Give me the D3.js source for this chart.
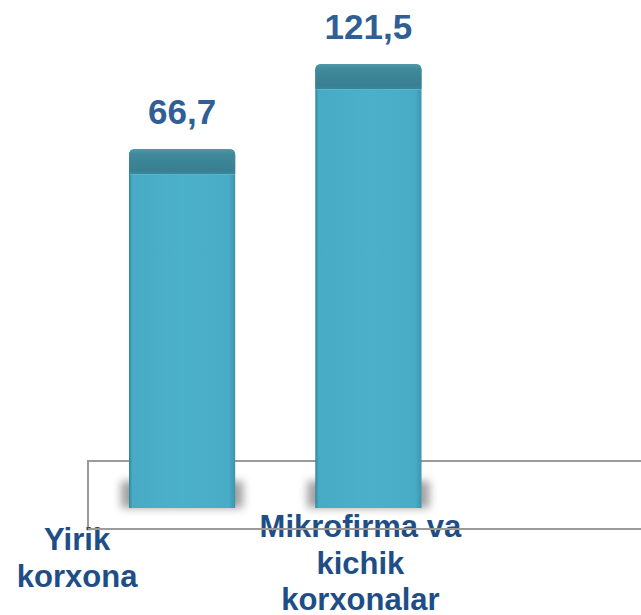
<!DOCTYPE html>
<html>
<head>
<meta charset="utf-8">
<script src="https://cdn.jsdelivr.net/npm/d3@7"></script>
<style>
  html, body { margin: 0; padding: 0; background: #fff; }
  svg { display: block; }
</style>
</head>
<body>
<div id="chart"></div>
<script>
// data
const categories = ["Yirik korxona", "Mikrofirma va kichik korxonalar"];
const values = [66.7, 121.5];
const categoryLines = [["Yirik", "korxona"], ["Mikrofirma va", "kichik", "korxonalar"]];

const width = 641;
const height = 615;
const floorY = 508; // base of bars
const capH = 25; // darker top block of each bar
const labelShift = [-105, -8]; // category labels sit left of the bars (3D layout)

const svg = d3.select("#chart")
  .append("svg")
  .attr("width", width)
  .attr("height", height)
  .attr("viewBox", `0 0 ${width} ${height}`);

const defs = svg.append("defs");

const bodyGrad = defs.append("linearGradient").attr("id", "bodyGrad")
  .attr("x1", 0).attr("x2", 1).attr("y1", 0).attr("y2", 0);
[[0, "#2f8399"], [0.03, "#47abc5"], [0.5, "#4bb0ca"], [0.94, "#48acc6"], [1, "#3c95ac"]]
  .forEach(([o, c]) => bodyGrad.append("stop").attr("offset", o).attr("stop-color", c));

const capGrad = defs.append("linearGradient").attr("id", "capGrad")
  .attr("x1", 0).attr("x2", 0).attr("y1", 0).attr("y2", 1);
[[0, "#5199a9"], [0.2, "#3f8a9b"], [0.85, "#387f91"], [1, "#3a8799"]]
  .forEach(([o, c]) => capGrad.append("stop").attr("offset", o).attr("stop-color", c));

defs.append("filter").attr("id", "blur")
  .attr("x", "-30%").attr("y", "-50%").attr("width", "160%").attr("height", "200%")
  .append("feGaussianBlur").attr("stdDeviation", 4);

// scales
const x = d3.scaleBand()
  .domain(categories)
  .range([129, 421.5])
  .paddingInner(0.43)
  .paddingOuter(0);

const y = d3.scaleLinear()
  .domain([-165, 121.5])
  .range([floorY, 64]);

// floor plane (top edge sits behind the bars)
svg.append("line")
  .attr("x1", 88).attr("x2", width + 10)
  .attr("y1", 461).attr("y2", 461)
  .attr("stroke", "#9a9a9a").attr("stroke-width", 2);
svg.append("line")
  .attr("x1", 88).attr("x2", 88)
  .attr("y1", 460).attr("y2", 530)
  .attr("stroke", "#9a9a9a").attr("stroke-width", 2);

const bars = svg.append("g")
  .selectAll("g")
  .data(categories)
  .enter()
  .append("g");

// shadows at the foot of the bars
bars.append("rect")
  .attr("x", (d) => x(d) - 8)
  .attr("y", floorY - 27)
  .attr("width", x.bandwidth() + 16)
  .attr("height", 27)
  .attr("fill", "#7a7a7a")
  .attr("opacity", 0.7)
  .attr("filter", "url(#blur)");

// bar body
bars.append("path")
  .attr("d", (d, i) => {
    const x0 = x(d), x1 = x(d) + x.bandwidth(), t = y(values[i]), r = 6;
    return `M${x0},${floorY} L${x0},${t + r} Q${x0},${t} ${x0 + r},${t} L${x1 - r},${t} Q${x1},${t} ${x1},${t + r} L${x1},${floorY} Z`;
  })
  .attr("fill", "url(#bodyGrad)");

// darker cap on top
bars.append("path")
  .attr("d", (d, i) => {
    const x0 = x(d), x1 = x(d) + x.bandwidth(), t = y(values[i]), r = 6;
    return `M${x0},${t + capH} L${x0},${t + r} Q${x0},${t} ${x0 + r},${t} L${x1 - r},${t} Q${x1},${t} ${x1},${t + r} L${x1},${t + capH} Z`;
  })
  .attr("fill", "url(#capGrad)");

bars.append("line")
  .attr("x1", (d) => x(d) + 1)
  .attr("x2", (d) => x(d) + x.bandwidth() - 1)
  .attr("y1", (d, i) => y(values[i]) + capH + 0.5)
  .attr("y2", (d, i) => y(values[i]) + capH + 0.5)
  .attr("stroke", "#55b7d0").attr("stroke-width", 1);

// value labels
bars.append("text")
  .attr("x", (d) => x(d) + x.bandwidth() / 2)
  .attr("y", (d, i) => y(values[i]) - 25)
  .attr("text-anchor", "middle")
  .attr("font-family", "Liberation Sans, Arial, sans-serif")
  .attr("font-weight", "bold")
  .attr("font-size", 35)
  .attr("fill", "#2f5f94")
  .text((d, i) => String(values[i]).replace(".", ","));

// category labels
const lineStart = [550, 537];
bars.append("text")
  .attr("text-anchor", "middle")
  .attr("font-family", "Liberation Sans, Arial, sans-serif")
  .attr("font-weight", "bold")
  .attr("font-size", 31)
  .attr("fill", "#1f4e86")
  .each(function (d, i) {
    const cx = x(d) + x.bandwidth() / 2 + labelShift[i];
    d3.select(this).selectAll("tspan")
      .data(categoryLines[i])
      .enter()
      .append("tspan")
      .attr("x", cx)
      .attr("y", (s, j) => lineStart[i] + j * 36.5)
      .text((s) => s);
  });

// floor bottom edge is drawn over the labels
svg.append("line")
  .attr("x1", 88).attr("x2", width + 10)
  .attr("y1", 529).attr("y2", 529)
  .attr("stroke", "#9a9a9a").attr("stroke-width", 2);
</script>
</body>
</html>
